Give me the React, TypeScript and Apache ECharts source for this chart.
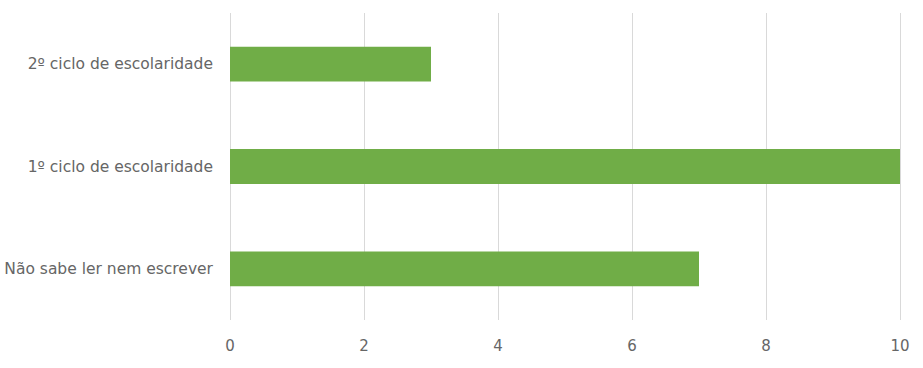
import React, { useEffect, useRef } from "react";
import * as echarts from "echarts";

const categories = ["Não sabe ler nem escrever", "1º ciclo de escolaridade", "2º ciclo de escolaridade"];
const values = [7, 10, 3];
const xTicks = [0, 2, 4, 6, 8, 10];

export default function App() {
  const ref = useRef<HTMLDivElement>(null);
  useEffect(() => {
    document.body.style.margin = "0";
    const chart = echarts.init(ref.current!, undefined, { renderer: "svg" });
    chart.setOption({
      animation: false,
      backgroundColor: "#ffffff",
      grid: { left: 230, right: 23, top: 13, bottom: 48, containLabel: false, outerBoundsMode: "none" },
      xAxis: {
        type: "value",
        min: xTicks[0],
        max: xTicks[xTicks.length - 1],
        interval: 2,
        axisLine: { show: false },
        axisTick: { show: false },
        axisLabel: { color: "#666666", fontSize: 15, fontFamily: "DejaVu Sans", margin: 18 },
        splitLine: { show: true, lineStyle: { color: "#d9d9d9", width: 1 } },
      },
      yAxis: {
        type: "category",
        data: categories,
        axisLine: { show: false },
        axisTick: { show: false },
        axisLabel: { color: "#666666", fontSize: 15.5, fontFamily: "DejaVu Sans", margin: 17 },
      },
      series: [
        {
          type: "bar",
          data: values,
          barWidth: "34%",
          itemStyle: { color: "#70ad47" },
        },
      ],
    });
    return () => chart.dispose();
  }, []);
  return <div ref={ref} style={{ width: 923, height: 368 }} />;
}
